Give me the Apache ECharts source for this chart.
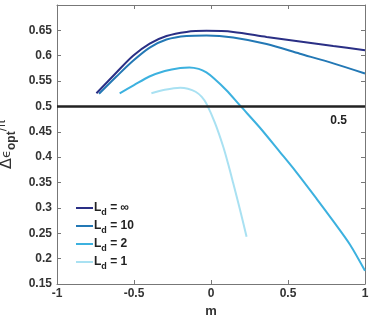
<!DOCTYPE html>
<html>
<head>
<meta charset="utf-8">
<script src="https://cdn.jsdelivr.net/npm/echarts@6/dist/echarts.min.js"></script>
<style>
  html, body { margin: 0; padding: 0; background: #fff; }
  #chart { width: 371px; height: 315px; }
</style>
</head>
<body>
<div id="chart"></div>
<script>
// m values and Δε_opt/π values
const mInf = [-0.744, -0.614, -0.506, -0.398, -0.289, -0.159, -0.029, 0.144, 0.361, 0.577, 0.794, 1.0]
const vInf = [0.526, 0.567, 0.600, 0.624, 0.639, 0.647, 0.649, 0.647, 0.637, 0.628, 0.619, 0.611]

const m10 = [-0.727, -0.614, -0.506, -0.398, -0.289, -0.159, -0.029, 0.144, 0.361, 0.577, 0.794, 1.0]
const v10 = [0.525, 0.559, 0.590, 0.616, 0.632, 0.639, 0.640, 0.636, 0.623, 0.604, 0.585, 0.565]

const m2 = [-0.593, -0.5, -0.4, -0.3, -0.2, -0.14, -0.08, -0.03, 0.02, 0.1, 0.194, 0.318, 0.448, 0.55, 0.686, 0.794, 0.902, 1.0]
const v2 = [0.526, 0.542, 0.559, 0.570, 0.576, 0.577, 0.574, 0.567, 0.555, 0.532, 0.500, 0.458, 0.410, 0.372, 0.318, 0.274, 0.228, 0.176]

const m1 = [-0.387, -0.3, -0.2, -0.15, -0.1, -0.06, -0.029, 0.025, 0.079, 0.112, 0.144, 0.188, 0.231]
const v1 = [0.526, 0.533, 0.537, 0.535, 0.529, 0.519, 0.505, 0.468, 0.421, 0.386, 0.349, 0.297, 0.243]

const seriesNames = ['L{d|d} = ∞', 'L{d|d} = 10', 'L{d|d} = 2', 'L{d|d} = 1']
const seriesColors = ['#2a2f85', '#2378b5', '#3cb1df', '#a9e1f2']
const refLevel = 0.5

const zip = (xs, ys) => xs.map((x, i) => [x, ys[i]])
const curves = [zip(mInf, vInf), zip(m10, v10), zip(m2, v2), zip(m1, v1)]

const labelFont = { fontFamily: 'Liberation Sans', fontWeight: 'bold', fontSize: 12, color: '#333' }

const chart = echarts.init(document.getElementById('chart'), null, { renderer: 'canvas' })

const boxAxis = {
  axisLine: { show: true, onZero: false, lineStyle: { color: '#777', width: 1 } },
  axisTick: { show: true, inside: true, length: 4, lineStyle: { color: '#777' } },
  axisLabel: { show: false },
  splitLine: { show: false }
}

const series = curves.map((data, i) => ({
  name: seriesNames[i],
  type: 'line',
  data,
  smooth: 0.3,
  showSymbol: false,
  lineStyle: { color: seriesColors[i], width: 2 },
  itemStyle: { color: seriesColors[i] },
  z: 5 - i
}))

series.push({
  type: 'line',
  data: [],
  silent: true,
  markLine: {
    symbol: 'none',
    silent: true,
    lineStyle: { color: '#222', width: 2.5, type: 'solid' },
    label: {
      position: 'insideEndBottom',
      formatter: String(refLevel),
      distance: [18, 8],
      ...labelFont,
      color: '#222'
    },
    data: [{ yAxis: refLevel }]
  }
})

chart.setOption({
  animation: false,
  backgroundColor: '#fff',
  grid: { left: 57, right: 6, top: 5, bottom: 31, outerBoundsMode: 'none', containLabel: false },
  legend: {
    orient: 'vertical',
    left: 71,
    top: 197,
    icon: 'rect',
    itemWidth: 17,
    itemHeight: 2,
    itemGap: 3,
    data: seriesNames,
    textStyle: {
      ...labelFont,
      color: '#222',
      padding: [0, 0, 0, -4],
      rich: {
        d: { fontFamily: 'Liberation Sans', fontWeight: 'bold', fontSize: 9, color: '#222', padding: [9, 0, 0, 0] }
      }
    }
  },
  xAxis: [
    {
      type: 'value',
      min: -1,
      max: 1,
      interval: 0.5,
      name: 'm',
      nameLocation: 'middle',
      nameGap: 17,
      nameTextStyle: { ...labelFont, fontSize: 13 },
      axisLine: { show: true, onZero: false, lineStyle: { color: '#777' } },
      axisTick: { show: true, inside: true, length: 4, lineStyle: { color: '#777' } },
      axisLabel: { ...labelFont, margin: 4 },
      splitLine: { show: false }
    },
    { type: 'value', position: 'top', min: -1, max: 1, interval: 0.5, ...boxAxis }
  ],
  yAxis: [
    {
      type: 'value',
      min: 0.15,
      max: 0.7,
      interval: 0.05,
      name: '{a|Δ}{e|ϵ}{s|opt}{p|/π}',
      nameLocation: 'middle',
      nameGap: 35,
      nameRotate: 90,
      nameTextStyle: {
        rich: {
          a: { fontFamily: 'DejaVu Sans', fontSize: 16, color: '#333' },
          e: { fontFamily: 'DejaVu Sans', fontSize: 13, color: '#333' },
          s: { fontFamily: 'Liberation Sans', fontWeight: 'bold', fontSize: 12, color: '#333', padding: [10, 0, 0, 0] },
          p: { fontFamily: 'DejaVu Sans', fontSize: 12, color: '#333', padding: [0, 0, 10, 0] }
        }
      },
      axisLine: { show: true, onZero: false, lineStyle: { color: '#777' } },
      axisTick: { show: true, inside: true, length: 4, lineStyle: { color: '#777' } },
      axisLabel: {
        ...labelFont,
        margin: 5,
        formatter: (v) => (v > 0.69 ? '' : String(Math.round(v * 100) / 100))
      },
      splitLine: { show: false }
    },
    { type: 'value', position: 'right', min: 0.15, max: 0.7, interval: 0.05, ...boxAxis }
  ],
  series
})
</script>
</body>
</html>
